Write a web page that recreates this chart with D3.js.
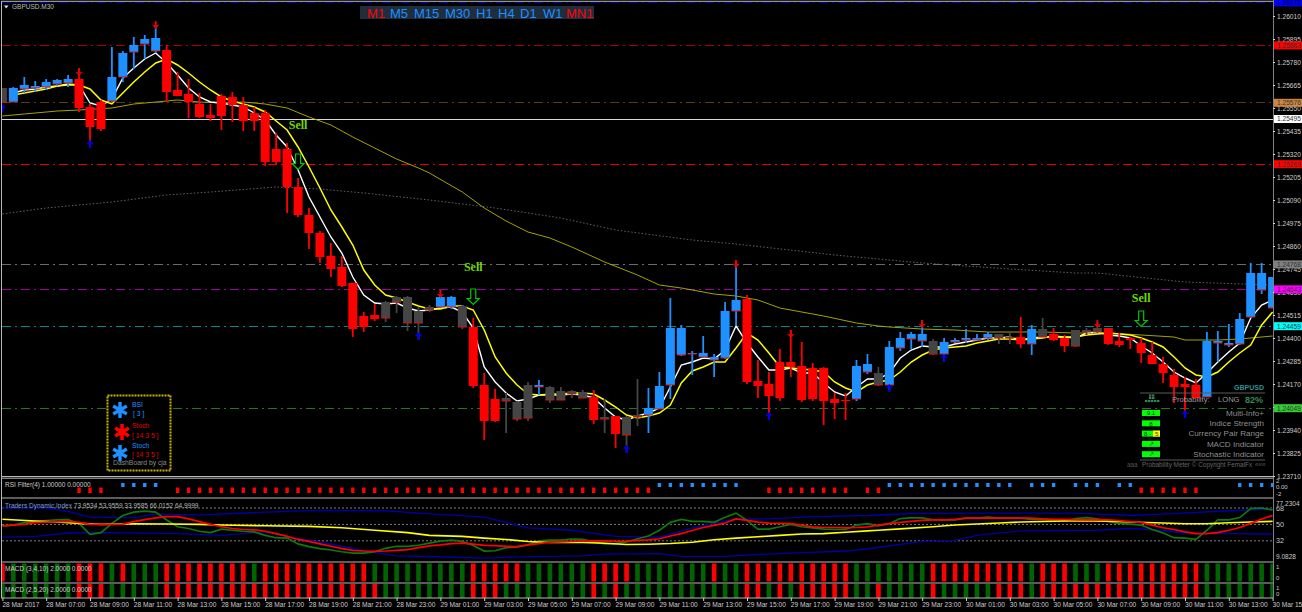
<!DOCTYPE html>
<html><head><meta charset="utf-8"><title>GBPUSD.M30</title>
<script src="https://cdn.jsdelivr.net/npm/d3@7"></script>
<style>html,body{margin:0;padding:0;background:#000;overflow:hidden}svg{display:block}text{font-family:"Liberation Sans",Arial,sans-serif}</style>
</head><body><div id="chart"></div>
<script>
// ---- values (prices in points, 1 point = 0.00001) ----
const bodyTop=[125650,125650,125665,125660,125680,125690,125695,125695,125555,125580,125705,125825,125865,125895,125900,125840,125640,125620,125570,125515,125610,125605,125565,125525,125525,125345,125345,125155,125015,124925,124810,124755,124675,124510,124515,124580,124605,124605,124535,124555,124605,124605,124560,124455,124165,124095,124100,124080,124165,124165,124155,124135,124135,124130,124105,124005,124010,124005,124015,124050,124160,124450,124450,124325,124325,124305,124535,124590,124595,124185,124170,124280,124280,124260,124250,124250,124095,124090,124260,124270,124225,124355,124400,124420,124420,124385,124380,124390,124400,124400,124420,124420,124405,124405,124445,124445,124420,124400,124440,124440,124450,124450,124385,124400,124375,124315,124270,124215,124170,124165,124385,124385,124375,124495,124725,124725,124705];
const bodyBottom=[125580,125580,125645,125650,125655,125670,125675,125550,125455,125445,125585,125705,125830,125870,125835,125630,125610,125580,125505,125500,125510,125565,125485,125485,125280,125280,125155,125015,124925,124805,124745,124660,124445,124455,124495,124500,124580,124475,124475,124540,124555,124555,124455,124160,123985,123985,124085,123995,124000,124155,124090,124090,124120,124100,123990,123995,123920,123915,124005,124015,124045,124165,124315,124320,124305,124290,124300,124535,124180,124160,124110,124100,124255,124090,124095,124085,124075,124085,124095,124230,124165,124165,124350,124395,124385,124320,124320,124380,124390,124390,124400,124400,124400,124370,124370,124405,124390,124360,124360,124430,124430,124370,124365,124390,124325,124270,124225,124155,124155,124100,124105,124375,124365,124370,124505,124640,124550];
const high=[125650,125655,125705,125685,125695,125695,125715,125750,125570,125590,125855,125835,125905,125915,125965,125865,125730,125695,125625,125570,125620,125630,125605,125555,125540,125425,125375,125200,125050,124935,124875,124810,124675,124530,124570,124585,124610,124610,124555,124565,124615,124610,124565,124500,124225,124145,124125,124085,124180,124190,124160,124155,124140,124140,124140,124095,124010,124010,124195,124150,124230,124600,124465,124335,124410,124320,124580,124790,124615,124290,124230,124345,124440,124380,124275,124255,124125,124125,124290,124320,124255,124385,124430,124430,124490,124395,124400,124400,124445,124420,124430,124420,124425,124505,124465,124500,124450,124415,124440,124450,124480,124450,124425,124405,124400,124380,124305,124245,124205,124195,124430,124435,124470,124525,124775,124775,124705];
const low=[125580,125580,125625,125630,125640,125660,125655,125530,125380,125435,125580,125680,125745,125795,125825,125580,125610,125500,125500,125485,125440,125480,125435,125435,125260,125270,125025,125005,124845,124775,124705,124655,124405,124430,124485,124480,124525,124435,124390,124530,124550,124545,124445,124150,123890,123980,123925,123985,123985,124115,124075,124090,124100,124100,123970,123925,123850,123825,123960,123925,124045,124095,124310,124215,124300,124205,124295,124465,124170,124100,124000,124085,124205,124080,124085,123965,123995,123990,124085,124220,124160,124140,124335,124345,124355,124315,124280,124375,124375,124390,124390,124370,124370,124350,124315,124405,124385,124330,124355,124415,124425,124365,124355,124345,124275,124270,124175,124075,124000,124100,124105,124280,124355,124365,124500,124620,124550];
const candleKind="n uuuuuu ddd uuuuu dddddddddddddddddddd nnnnn uu n ddd nnn u nnnn d n d nn uuuuuuuuu dddddddddd uu n uuuu n uuuuu nn d u n dd nnn ddddddddd uuuuuuu".replace(/ /g,"").split("");
const fastMA=[null,125625,125640,125645,125655,125660,125670,125665,125575,125560,125595,125700,125750,125795,125825,125775,125715,125650,125605,125580,125575,125565,125555,125525,125490,125415,125355,125240,125105,125005,124905,124825,124705,124615,124575,124570,124575,124550,124535,124540,124550,124555,124530,124450,124255,124180,124125,124085,124095,124115,124115,124115,124120,124115,124100,124050,124005,123990,124010,124025,124050,124155,124265,124280,124300,124295,124340,124460,124375,124305,124240,124240,124250,124225,124225,124175,124130,124110,124155,124195,124195,124225,124300,124340,124360,124355,124355,124370,124380,124390,124400,124400,124405,124390,124400,124405,124405,124405,124400,124425,124430,124415,124410,124400,124360,124325,124280,124230,124200,124175,124225,124280,124330,124375,124500,124565,124590];
const midMA=[null,125615,125625,125635,125645,125660,125665,125665,125645,125590,125570,125625,125680,125730,125775,125795,125765,125725,125680,125640,125605,125585,125570,125555,125530,125485,125440,125355,125255,125150,125040,124955,124865,124740,124665,124615,124600,124580,124560,124545,124545,124560,124560,124540,124440,124305,124225,124165,124120,124115,124120,124120,124125,124125,124120,124090,124055,124015,124000,124010,124025,124065,124175,124235,124255,124280,124280,124350,124425,124390,124325,124255,124250,124245,124240,124230,124180,124150,124130,124165,124180,124190,124230,124280,124315,124340,124350,124355,124360,124375,124385,124395,124395,124390,124395,124400,124410,124405,124405,124415,124420,124425,124420,124415,124400,124380,124355,124305,124250,124215,124205,124230,124280,124325,124365,124465,124530];
const longMAIdx=[0,2,5,7,10,12,14,16,18,20,22,24,26,28,30,32,34,36,38,39,42,44,46,48,50,52,55,58,60,62,65,67,69,71,75,78,80,81,84,87,90,95,98,101,104,107,108,111,113,116];
const longMAVal=[125510,125520,125535,125540,125550,125570,125580,125590,125580,125575,125580,125570,125550,125505,125465,125405,125350,125295,125250,125225,125130,125050,124985,124930,124900,124855,124780,124715,124665,124650,124620,124610,124590,124550,124510,124475,124460,124455,124445,124440,124430,124430,124425,124425,124415,124405,124390,124390,124395,124410];
const trendIdx=[0,4,10,15,19,25,29,33,39,45,51,56,63,67,76,84,92,98,100,108,116];
const trendVal=[125020,125050,125080,125115,125130,125155,125145,125125,125090,125050,125000,124940,124890,124870,124815,124775,124745,124725,124725,124680,124665];
const redArrowIdx=[7,14,40,67,72,84,100];
const redArrowVal=[125710,125945,124600,124750,124400,124450,124450];
const blueArrowIdx=[0,8,38,57,70,81,86,108];
const blueArrowVal=[125570,125390,124430,123865,124030,124170,124320,124040];
const sellIdx=[27,43,104];
const sellVal=[125320,124645,124535];
const sellTextVal=[125465,124755,124600];
const levelVal=[126078,125863,125576,125495,125269,124768,124643,124459,124049];
const levelText=["1.26078","1.25863","1.25576","1.25495","1.25269","1.24768","1.24643","1.24459","1.24049"];
const levelLine=["#0000b0","#a80000","#5c3c12","#d8d8d8","#e80000","#6a6a6a","#a000a0","#008b8b","#1f7a1f"];
const levelFill=["#0000ff","#ff0000","#cd853f","#ffffff","#ff0000","#808080","#ff00ff","#00ffff","#32cd32"];
const priceTicks=[126010,125895,125780,125665,125550,125435,125320,125205,125090,124975,124860,124745,124630,124515,124400,124285,124170,124055,123940,123825,123710];
const timeIdx=[0,4,8,12,16,20,24,28,32,36,40,44,48,52,56,60,64,68,72,76,80,84,88,92,96,100,104,108,112,116];
const timeText=["28 Mar 2017","28 Mar 07:00","28 Mar 09:00","28 Mar 11:00","28 Mar 13:00","28 Mar 15:00","28 Mar 17:00","28 Mar 19:00","28 Mar 21:00","28 Mar 23:00","29 Mar 01:00","29 Mar 03:00","29 Mar 05:00","29 Mar 07:00","29 Mar 09:00","29 Mar 11:00","29 Mar 13:00","29 Mar 15:00","29 Mar 17:00","29 Mar 19:00","29 Mar 21:00","29 Mar 23:00","30 Mar 01:00","30 Mar 03:00","30 Mar 05:00","30 Mar 07:00","30 Mar 09:00","30 Mar 11:00","30 Mar 13:00","30 Mar 15:00"];
const rsiState=("nnnnnnn rrr n bbbb n "+"rrrrrrrrrrrrrrrrrrrrrrrrrrrrrrrrrrrrrrrrrrrr"+" bbbbbbbb nn rrrrrrrr n rr bbbbbbbbbbbb n bbb n bbb n bb rrrrrr nnn bbbb").replace(/ /g,"").split("");
const tdiGreen=[48.5,49.3,51.9,53,54.1,54.9,55.3,51.1,39.1,41,51.1,59.8,63.5,64.6,63.5,54.9,47.4,45.5,42.5,41,44.8,43.6,42.5,41.8,38,35.4,35,28.6,25.6,23.4,21.9,20,18.5,18.5,20,23.8,26,26,27.1,29.4,31.6,32.8,31.3,26.8,20.8,21.1,24.5,25.3,27.5,32,32.8,32.8,33.9,33.5,30.9,28.6,29,30.9,34.3,37.3,43.6,52.3,55.6,53.4,53.4,52.3,57.9,62.4,54.5,44.8,44.8,47.4,50,47.4,46.3,44.8,44.4,44.4,49.3,50.8,48.5,50.8,56.4,57.1,57.1,54.9,54.9,54.9,56.8,56.8,57.9,56.8,56.8,56.8,55.6,55.6,54.9,53.8,56.4,57.5,56,53,51.1,50.4,49.3,44.4,40.6,35.4,35,33.5,43.6,54.9,54.9,57.5,67.3,68,65.8];
const tdiRed=[48.5,49.3,50,51.9,52.6,53,53.4,52.3,50,50,50,50.4,53,55.3,57.1,58.6,58.6,56,53,50,47.4,45.5,44.4,44,42.5,39.9,36.9,33.5,31.3,28.6,26,23.4,21.5,20.8,20.4,20.8,21.5,22.3,24.5,26.4,27.5,29,29.4,28.3,27.1,26.8,26,25.6,27.5,29,30.5,30.9,31.3,32,32,32,31.3,31.6,32.4,33.1,34.3,37.3,39.9,43.3,46.6,48.9,51.5,56,54.5,52.6,51.5,51.1,50.8,49.3,47.4,46.6,46.6,46.3,46.6,47.4,49.3,50.8,52.3,53.4,54.5,54.9,54.9,55.6,56.8,56.8,56.8,56.8,56.8,56.8,56.8,56,55.6,55.6,54.9,54.9,55.3,54.9,54.1,53,52.3,49.3,46.3,44.4,41.8,39.9,39.9,41,43.6,46.6,51.1,56,59.8];
const tdiMidIdx=[0,3,5,7,9,12,15,18,20,24,28,31,34,37,39,42,44,46,48,50,53,55,57,59,61,63,65,67,69,71,73,75,77,79,80,82,85,87,89,91,93,96,98,101,103,106,108,110,112,114,116];
const tdiMidVal=[55.6,53.8,52.6,51.1,50,50.8,50.4,50,49.3,48.5,47.8,46.3,43.6,41,38,36.9,35,33.5,31.3,30.1,30.1,29.4,27.9,28.3,29,30.5,33.1,35,36.5,38,39.5,39.9,41.4,42.9,43.6,45.1,47.4,49.3,50.4,51.5,52.6,53.4,54.1,53.4,52.6,51.5,50.8,50.8,51.9,52.6,53.4];
const tdiUpIdx=[0,4,6,8,12,14,18,24,29,35,39,44,48,52,56,60,63,67,70,74,79,83,88,98,103,106,112,116];
const tdiUpVal=[68,68,64.3,57.9,57.5,61.3,60.5,63.5,65.4,65,61.6,57.9,46.3,43.6,36.9,36.1,46.3,56,56,58.6,59.8,62,62.4,62.4,59.8,61.3,65,66.9];
const tdiLowIdx=[0,3,6,10,16,20,24,27,30,33,36,39,44,47,53,55,60,62,66,69,72,77,79,84,87,89,93,100,103,105,108,112,116];
const tdiLowVal=[36.1,36.9,40.6,41,39.9,38,41.8,34.3,28.6,21,15.5,14.8,12.9,14.4,15.5,17.4,18,15,15,17,18.5,20.8,23,31.3,32.4,38,42.9,43.6,45.5,44.4,40.6,39.9,39.5];
const tdiLevels=[68,50,32];
const macdFast="0 111111 000 1 0 111 00000000 1 0000000000 111111111 00000 111111 0000 1111111 0 11 0000000000 1111111 000000000 1 000 111 000000000 1111111".replace(/ /g,"").split("").map(Number);
const macdSlow="1 111111 000 11111 00000000000000000000 11111111 000 11111111 0 1 0 11111111111 00 1 0 1 00000 11 0 1111 0 11111 000 1 000000000000000 1111111".replace(/ /g,"").split("").map(Number);
const timeframes=["M1","M5","M15","M30","H1","H4","D1","W1","MN1"];
const timeframeOn=[1,0,0,0,0,0,0,0,1];
const meterRows=["Multi-Info+","Indice Strength","Currency Pair Range","MACD Indicator","Stochastic Indicator"];
const meterBadge=["9.1","8","8 -","↗","↗"];

// ---- scales ----
const W=1302,H=612,RIGHT=1273;
const bars=d3.range(bodyTop.length);
const x=d3.scaleLinear().domain([0,116]).range([2.4,1272.6]);
const y=d3.scaleLinear().domain([126090,123690]).range([0,480]);
const yTdi=d3.scaleLinear().domain([77.2304,9.0828]).range([499.6,561.7]);
const yRow1=d3.scaleLinear().domain([1,0]).range([563.5,581.5]);
const yRow2=d3.scaleLinear().domain([1,0]).range([584,598]);

const svg=d3.select("#chart").append("svg").attr("width",W).attr("height",H).attr("viewBox",`0 0 ${W} ${H}`);
svg.append("rect").attr("width",W).attr("height",H).attr("fill","#000");
const defs=svg.append("defs");
defs.append("clipPath").attr("id","cMain").append("rect").attr("x",2).attr("y",2).attr("width",RIGHT-2).attr("height",474);
defs.append("clipPath").attr("id","cSub").append("rect").attr("x",2).attr("y",478).attr("width",RIGHT-2).attr("height",120);
const main=svg.append("g").attr("clip-path","url(#cMain)");
const sub=svg.append("g").attr("clip-path","url(#cSub)");

// ---- price levels ----
main.selectAll("line.level").data(levelVal).join("line").attr("class","level")
 .attr("x1",2).attr("x2",RIGHT).attr("y1",d=>y(d)).attr("y2",d=>y(d))
 .attr("stroke",(d,i)=>levelLine[i]).attr("stroke-width",1).attr("shape-rendering","crispEdges")
 .attr("stroke-dasharray",(d,i)=>i===3?null:"9 4 2 4");

// ---- moving averages ----
const lineP=d3.line().defined(d=>d[1]!==null).x(d=>x(d[0])).y(d=>y(d[1]));
const zip=(a,b)=>a.map((v,i)=>[v,b[i]]);
main.append("path").attr("d",lineP(zip(trendIdx,trendVal))).attr("fill","none").attr("stroke","#7a7a7a").attr("stroke-width",.8).attr("stroke-dasharray","1.5 2");
main.append("path").attr("d",lineP(zip(longMAIdx,longMAVal))).attr("fill","none").attr("stroke","#b4b400").attr("stroke-width",.9);
main.append("path").attr("d",lineP(bars.map(i=>[i,fastMA[i]]))).attr("fill","none").attr("stroke","#fff").attr("stroke-width",1.4);
main.append("path").attr("d",lineP(bars.map(i=>[i,midMA[i]]))).attr("fill","none").attr("stroke","#ffff00").attr("stroke-width",1.5);

// ---- candles ----
const kindColor={u:"#1e90ff",d:"#ff0000",n:"#454545"};
main.selectAll("line.wick").data(bars).join("line").attr("class","wick")
 .attr("x1",i=>x(i)).attr("x2",i=>x(i)).attr("y1",i=>y(high[i])).attr("y2",i=>y(low[i]))
 .attr("stroke",i=>kindColor[candleKind[i]]).attr("stroke-width",1.8);
main.selectAll("rect.body").data(bars).join("rect").attr("class","body")
 .attr("x",i=>x(i)-4.5).attr("width",9).attr("y",i=>y(bodyTop[i]))
 .attr("height",i=>Math.max(1,y(bodyBottom[i])-y(bodyTop[i]))).attr("fill",i=>kindColor[candleKind[i]]);
main.selectAll("line.openTick").data(bars.filter(i=>candleKind[i]!=="d")).join("line").attr("class","openTick")
 .attr("x1",i=>x(i)-4.5).attr("x2",i=>x(i)+4.5).attr("y1",i=>y(bodyBottom[i])).attr("y2",i=>y(bodyBottom[i]))
 .attr("stroke","#e01010").attr("stroke-width",1);

// ---- arrows ----
main.selectAll("path.dn").data(redArrowIdx).join("path").attr("class","dn")
 .attr("transform",(d,k)=>`translate(${x(d)},${y(redArrowVal[k])})`)
 .attr("d","M0,0L-4,-4.5L-1,-3.5L-1,-8L1,-8L1,-3.5L4,-4.5Z").attr("fill","#e80000");
main.selectAll("path.up").data(blueArrowIdx).join("path").attr("class","up")
 .attr("transform",(d,k)=>`translate(${x(d)},${y(blueArrowVal[k])})`)
 .attr("d","M0,0L-4,4.5L-1,3.5L-1,8L1,8L1,3.5L4,4.5Z").attr("fill","#0000ee");
main.selectAll("path.sell").data(sellIdx).join("path").attr("class","sell")
 .attr("transform",(d,k)=>`translate(${x(d)},${y(sellVal[k])})`)
 .attr("d","M-2.5,0L2.5,0L2.5,9.5L6,9.5L0,15.5L-6,9.5L-2.5,9.5Z").attr("fill","#000").attr("stroke","#00c800").attr("stroke-width",1.2);
main.selectAll("text.sellT").data(sellIdx).join("text").attr("class","sellT")
 .attr("x",d=>x(d)).attr("y",(d,k)=>y(sellTextVal[k])).attr("text-anchor","middle").attr("dominant-baseline","central")
 .style("font-family","'Liberation Serif',serif").style("font-weight","bold").style("font-size","12px").attr("fill","#6fd800").text("Sell");

// ---- header ----
svg.append("path").attr("d","M4,5.5L8.5,5.5L6.2,8.5Z").attr("fill","#e0e0e0");
svg.append("text").attr("x",12).attr("y",9.3).attr("fill","#bdbdbd").style("font-size","6.5px").text("GBPUSD.M30");
svg.append("rect").attr("x",360).attr("y",6).attr("width",234).attr("height",13).attr("fill","#1f2d3d");
const tfX=[367,390,414,445,476,498,520,543,566];
svg.selectAll("text.tf").data(timeframes).join("text").attr("class","tf").attr("x",(d,i)=>tfX[i]).attr("y",17.5)
 .attr("fill",(d,i)=>timeframeOn[i]?"#ff0000":"#1e90ff").style("font-size","13px").text(d=>d);

// ---- dashboard ----
const dash=svg.append("g");
dash.append("rect").attr("x",107.5).attr("y",395.5).attr("width",63).attr("height",75).attr("fill","#000").attr("stroke","#c8b400").attr("stroke-width",2).attr("stroke-dasharray","2 1");
const star=d3.symbol().type(d3.symbolAsterisk).size(175);
[[120,410,"#1e90ff"],[122,432,"#ff0000"],[120,453,"#1e90ff"]].forEach(s=>dash.append("path").attr("d",star()).attr("transform",`translate(${s[0]},${s[1]})`).attr("fill","none").attr("stroke",s[2]).attr("stroke-width",3.4));
[["BSI",132,407,"#1e90ff"],["[ 3 ]",133,416,"#1e90ff"],["Stoch",132,428,"#e00000"],["[ 14 3 5 ]",132,438,"#e00000"],["Stoch",132,448,"#1e90ff"],["[ 14 3 5 ]",132,457,"#e00000"],["DashBoard by cja",113,465,"#8a8a8a"]].forEach(t=>dash.append("text").attr("x",t[1]).attr("y",t[2]).attr("fill",t[3]).style("font-size","6.8px").text(t[0]));

// ---- probability meter ----
const pm=svg.append("g");
pm.append("text").attr("x",1264).attr("y",390).attr("text-anchor","end").attr("fill","#2f8f8f").style("font-size","7px").style("font-weight","bold").text("GBPUSD");
[393,460].forEach(v=>pm.append("line").attr("x1",1140).attr("x2",1265).attr("y1",v).attr("y2",v).attr("stroke","#5a5a5a").attr("stroke-width",1));
[[1145,400],[1148,400],[1151,400],[1154,400],[1157,400],[1149,397],[1152,397],[1149,394.5],[1152,394.5]].forEach(p=>pm.append("rect").attr("x",p[0]).attr("y",p[1]).attr("width",2.4).attr("height",2).attr("fill","#2e8b57"));
pm.append("text").attr("x",1172).attr("y",402).attr("fill","#9a9a9a").style("font-size","7.6px").text("Probability:");
pm.append("text").attr("x",1218).attr("y",402).attr("fill","#9a9a9a").style("font-size","7.6px").text("LONG");
pm.append("text").attr("x",1245).attr("y",402.5).attr("fill","#2e8b57").style("font-size","9px").style("font-weight","bold").text("82%");
meterRows.forEach((t,k)=>{
 const c=413+10.3*k;
 pm.append("rect").attr("x",1142).attr("y",c-3).attr("width",18).attr("height",6).attr("fill","#00ff00");
 if(k===2) pm.append("rect").attr("x",1153).attr("y",c-3).attr("width",7).attr("height",6).attr("fill","#ffff00");
 pm.append("text").attr("x",k===2?1144:1151).attr("y",c+2.2).attr("text-anchor",k===2?"start":"middle").attr("fill","#004400").style("font-size","6.2px").text(meterBadge[k]);
 if(k===2) pm.append("text").attr("x",1155).attr("y",c+2.2).attr("fill","#444400").style("font-size","6.2px").text("5");
 pm.append("text").attr("x",1264).attr("y",c+2.6).attr("text-anchor","end").attr("fill","#8f8f8f").style("font-size","8.1px").text(t);
});
pm.append("text").attr("x",1127).attr("y",466.5).attr("fill","#555").style("font-size","6.4px").text("aaa");
pm.append("text").attr("x",1142).attr("y",466.5).attr("fill","#666").style("font-size","6.4px").text("Probability Meter © Copyright FemalFx");
pm.append("text").attr("x",1255).attr("y",466.5).attr("fill","#555").style("font-size","6.4px").text("«««");

// ---- RSI filter ----
sub.selectAll("rect.rsi").data(bars.filter(i=>rsiState[i]!=="n")).join("rect").attr("class","rsi")
 .attr("x",i=>x(i)-1.7).attr("width",3.4)
 .attr("y",i=>rsiState[i]==="b"?483:487.5).attr("height",i=>rsiState[i]==="b"?4:5.5)
 .attr("fill",i=>rsiState[i]==="b"?"#1e90ff":"#ff0000");

// ---- TDI ----
sub.selectAll("line.tl").data(tdiLevels).join("line").attr("class","tl").attr("x1",2).attr("x2",RIGHT).attr("y1",d=>yTdi(d)).attr("y2",d=>yTdi(d))
 .attr("stroke","#8a8a8a").attr("stroke-width",.9).attr("stroke-dasharray","2 2");
const lineT=d3.line().x(d=>x(d[0])).y(d=>yTdi(d[1]));
sub.append("path").attr("d",lineT(zip(tdiUpIdx,tdiUpVal))).attr("fill","none").attr("stroke","#0000a8").attr("stroke-width",1.3);
sub.append("path").attr("d",lineT(zip(tdiLowIdx,tdiLowVal))).attr("fill","none").attr("stroke","#0000a8").attr("stroke-width",1.3);
sub.append("path").attr("d",lineT(bars.map(i=>[i,tdiGreen[i]]))).attr("fill","none").attr("stroke","#0c7a0c").attr("stroke-width",1.7);
sub.append("path").attr("d",lineT(zip(tdiMidIdx,tdiMidVal))).attr("fill","none").attr("stroke","#ffff00").attr("stroke-width",1.6);
sub.append("path").attr("d",lineT(bars.map(i=>[i,tdiRed[i]]))).attr("fill","none").attr("stroke","#ff0000").attr("stroke-width",1.7);

// ---- MACD rows ----
function macdRow(flags,scale){
 sub.append("g").selectAll("rect").data(bars).join("rect")
  .attr("x",i=>x(i)-2.3).attr("width",4.6).attr("y",scale(1)).attr("height",scale(0)-scale(1))
  .attr("fill",i=>flags[i]?"#006400":"#ff0000");
}
macdRow(macdFast,yRow1); macdRow(macdSlow,yRow2);

// ---- frame ----
[1.3,476.5,478.2,498,562,583,598].forEach(v=>svg.append("line").attr("x1",1).attr("x2",RIGHT).attr("y1",v).attr("y2",v).attr("stroke","#b8b8b8").attr("stroke-width",1));
svg.append("line").attr("x1",1.5).attr("x2",1.5).attr("y1",1).attr("y2",598).attr("stroke","#b8b8b8").attr("stroke-width",1);

// ---- axes ----
function styleAxis(g,col){g.selectAll(".domain").attr("stroke","#808080");g.selectAll(".tick line").attr("stroke","#d8d8d8");g.selectAll("text").attr("fill",col||"#cccccc").style("font-size","6.6px").style("font-family","'Liberation Sans',sans-serif");}
const ax=svg.append("g").attr("transform",`translate(${RIGHT},0)`).call(d3.axisRight(y).tickValues(priceTicks).tickFormat(d=>(d/1e5).toFixed(5)).tickSize(2).tickPadding(2));
styleAxis(ax); ax.select(".domain").attr("d","M0.5,0V598");
const lab=svg.append("g");
lab.selectAll("rect").data(levelVal).join("rect").attr("x",RIGHT+1).attr("width",W-RIGHT-1).attr("y",d=>y(d)-4).attr("height",8).attr("fill",(d,i)=>levelFill[i]);
lab.selectAll("text").data(levelVal).join("text").attr("x",RIGHT+4).attr("y",d=>y(d)+2.4).attr("fill",(d,i)=>i===0?"#00002a":"#333").style("font-size","6.6px").text((d,i)=>levelText[i]);

const tdiAxis=svg.append("g").attr("transform",`translate(${RIGHT},0)`);
[[77.2304,"77.2304",503.5],[68,"68",509],[50,"50",524.5],[32,"32",541],[9.0828,"9.0828",556.5]].forEach(t=>tdiAxis.append("text").attr("x",3).attr("y",t[2]+2.4).attr("fill","#c8c8c8").style("font-size",t[1].length>3?"6.5px":"7.2px").text(t[1]));
[["2",480.3],["0.00",487],["-2",493.5],["1",567],["0",577.5],["1",587.5],["0",593.8]].forEach(t=>tdiAxis.append("text").attr("x",3).attr("y",t[1]+2.2).attr("fill","#c8c8c8").style("font-size","6px").text(t[0]));

const at=svg.append("g").attr("transform","translate(0,598)").call(d3.axisBottom(x).tickValues(timeIdx).tickFormat((d,k)=>timeText[k]).tickSize(2).tickPadding(2));
styleAxis(at); at.select(".domain").remove();
at.selectAll("text").attr("text-anchor","start").attr("x",-0.5).attr("y",4);
at.selectAll(".tick line").attr("y2",3);

// ---- indicator titles ----
[["RSI Filter(4) 1.00000 0.00000",5,487,"#c8c8c8"],["MACD (3,4,10) 2.0000 0.0000",5,571,"#d0d0d0"],["MACD (2,5,20) 2.0000 0.0000",5,592,"#d0d0d0"]].forEach(t=>svg.append("text").attr("x",t[1]).attr("y",t[2]).attr("fill",t[3]).style("font-size","6.5px").text(t[0]));
const tdiTitle=svg.append("text").attr("x",5).attr("y",507.5).style("font-size","6.5px");
tdiTitle.append("tspan").attr("fill","#7f9fd8").text("Traders Dynamic Index ");
tdiTitle.append("tspan").attr("fill","#b8b8b8").text("73.9534 53.9559 33.9585 66.0152 64.9999");
</script></body></html>
